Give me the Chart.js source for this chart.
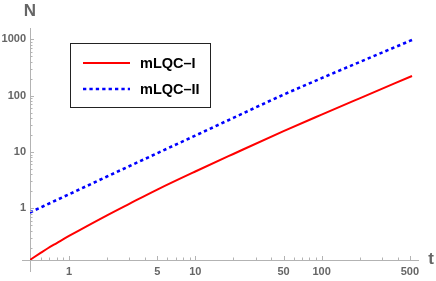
<!DOCTYPE html>
<html>
<head>
<meta charset="utf-8">
<script src="https://cdn.jsdelivr.net/npm/chart.js@4.4.1/dist/chart.umd.min.js"></script>
<style>
  html, body { margin: 0; padding: 0; background: #fff; }
  #wrap { width: 436px; height: 281px; }
</style>
</head>
<body>
<div id="wrap"><canvas id="myChart"></canvas></div>
<script>
// values
const tRed = [0.49, 0.6, 0.68, 0.8, 1, 2, 3, 5, 10, 20, 50, 100, 200, 520];
const nRed = [0.121, 0.163, 0.195, 0.241, 0.322, 0.75, 1.2, 2.15, 4.5, 9.2, 23.4, 46, 89.5, 223];

const tBlue = [0.49, 1, 2, 5, 10, 20, 50, 100, 200, 520];
const nBlue = [0.843, 1.77, 3.66, 9.5, 19.5, 40.2, 104, 204, 394, 972];

const xMajor = [1, 5, 10, 50, 100, 500];
const xMinor = [0.6, 0.7, 0.8, 0.9, 2, 3, 4, 6, 7, 8, 9, 20, 30, 40, 60, 70, 80, 90, 200, 300, 400];
const yMajor = [1, 10, 100, 1000];
const yMinor = [0.2, 0.3, 0.4, 0.5, 0.6, 0.7, 0.8, 0.9, 2, 3, 4, 5, 6, 7, 8, 9,
                20, 30, 40, 50, 60, 70, 80, 90, 200, 300, 400, 500, 600, 700, 800, 900];

const axisColor = '#b3b3b3';
const labelColor = '#666';
const fontFamily = '"Liberation Sans", Arial, sans-serif';

const toPoints = (xs, ys) => xs.map((v, i) => ({ x: v, y: ys[i] }));

// Mathematica style inward ticks, axis names and framed legend
const decorPlugin = {
  id: 'decor',
  afterDraw(chart) {
    const { ctx, chartArea: a, scales: { x, y } } = chart;
    ctx.save();
    ctx.strokeStyle = axisColor;
    ctx.lineWidth = 1;
    ctx.beginPath();
    // small axis overhang like the original
    ctx.moveTo(22, a.bottom + 0.5); ctx.lineTo(a.left, a.bottom + 0.5);
    ctx.moveTo(a.left + 0.5, a.bottom); ctx.lineTo(a.left + 0.5, a.bottom + 12);
    xMajor.concat(xMinor).forEach(v => {
      const px = Math.round(x.getPixelForValue(v)) + 0.5;
      const len = xMajor.includes(v) ? 4 : 2.5;
      ctx.moveTo(px, a.bottom); ctx.lineTo(px, a.bottom - len);
    });
    yMajor.concat(yMinor).forEach(v => {
      const py = Math.round(y.getPixelForValue(v)) + 0.5;
      const len = yMajor.includes(v) ? 4 : 2.5;
      ctx.moveTo(a.left, py); ctx.lineTo(a.left + len, py);
    });
    ctx.stroke();

    // axis names
    ctx.fillStyle = labelColor;
    ctx.font = 'bold 17px ' + fontFamily;
    ctx.textAlign = 'center';
    ctx.textBaseline = 'middle';
    ctx.fillText('N', 30, 11);
    ctx.fillText('t', 431, 259);

    // legend
    ctx.fillStyle = '#fff';
    ctx.fillRect(70.5, 43.5, 140, 64);
    ctx.strokeStyle = '#222';
    ctx.strokeRect(70.5, 43.5, 140, 64);
    const rows = [63, 89];
    chart.data.datasets.forEach((ds, i) => {
      ctx.beginPath();
      ctx.strokeStyle = ds.borderColor;
      ctx.lineWidth = ds.borderWidth;
      ctx.setLineDash(ds.borderDash || []);
      ctx.moveTo(83, rows[i]); ctx.lineTo(130, rows[i]);
      ctx.stroke();
      ctx.setLineDash([]);
      ctx.fillStyle = '#000';
      ctx.font = 'bold 14.5px ' + fontFamily;
      ctx.textAlign = 'left';
      ctx.fillText(ds.label, 140, rows[i] + 1);
    });
    ctx.restore();
  }
};

const tickFont = { family: fontFamily, size: 11, weight: 'bold' };

var ctx = document.getElementById('myChart').getContext('2d');
var chart = new Chart(ctx, {
  type: 'line',
  data: {
    datasets: [
      {
        label: 'mLQC–I',
        data: toPoints(tRed, nRed),
        borderColor: '#ff0000',
        borderWidth: 2,
        pointRadius: 0,
        cubicInterpolationMode: 'monotone',
        fill: false
      },
      {
        label: 'mLQC–II',
        data: toPoints(tBlue, nBlue),
        borderColor: '#0000ff',
        borderWidth: 2.6,
        borderDash: [3.3, 3.1],
        pointRadius: 0,
        cubicInterpolationMode: 'monotone',
        fill: false
      }
    ]
  },
  options: {
    responsive: true,
    maintainAspectRatio: false,
    animation: false,
    layout: { padding: { top: 28, right: 18, left: 0, bottom: 0 } },
    plugins: { legend: { display: false }, tooltip: { enabled: false } },
    scales: {
      x: {
        type: 'logarithmic',
        position: 'bottom',
        min: 0.491,
        max: 580,
        afterBuildTicks: s => { s.ticks = xMajor.concat(xMinor).sort((a, b) => a - b).map(v => ({ value: v })); },
        afterFit: s => { s.height = 21; },
        grid: { display: false, drawTicks: false },
        border: { display: true, color: axisColor },
        ticks: {
          autoSkip: false,
          maxRotation: 0,
          padding: 5,
          color: labelColor,
          font: tickFont,
          callback: v => xMajor.includes(v) ? String(v) : ''
        }
      },
      y: {
        type: 'logarithmic',
        position: 'left',
        min: 0.1207,
        max: 1585,
        afterBuildTicks: s => { s.ticks = yMajor.concat(yMinor).sort((a, b) => a - b).map(v => ({ value: v })); },
        afterFit: s => { s.width = 30; },
        grid: { display: false, drawTicks: false },
        border: { display: true, color: axisColor },
        ticks: {
          autoSkip: false,
          padding: 4,
          color: labelColor,
          font: tickFont,
          callback: v => yMajor.includes(v) ? String(v) : ''
        }
      }
    }
  },
  plugins: [decorPlugin]
});
</script>
</body>
</html>
